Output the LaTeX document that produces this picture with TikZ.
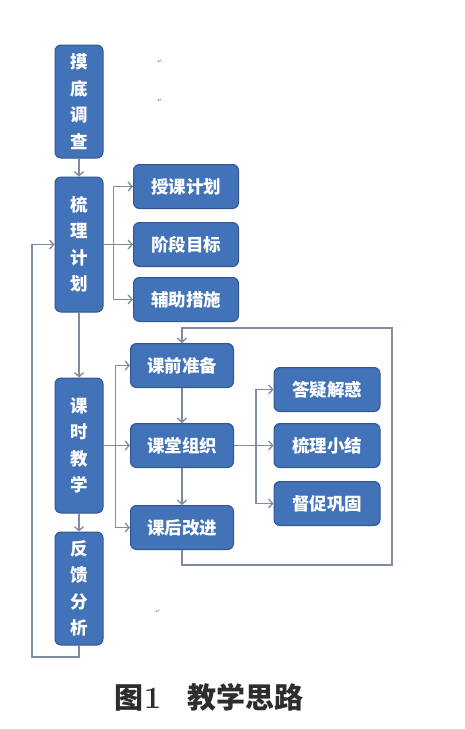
\documentclass[tikz,border=0pt]{standalone}
\usepackage{fontspec}
\newfontfamily\cjk{Noto Sans CJK SC}
\newfontfamily\djv{DejaVu Sans}
\usetikzlibrary{arrows.meta}
\definecolor{boxfill}{RGB}{66,114,184}
\definecolor{boxedge}{RGB}{48,86,145}
\definecolor{linec}{RGB}{128,138,162}
\definecolor{capc}{RGB}{45,45,45}
\tikzset{
  bx/.style={draw=boxedge, line width=1pt, fill=boxfill, rounded corners=6pt, text=white,
     font=\cjk\bfseries\fontsize{17.5}{26.5}\selectfont, align=center, inner sep=0pt},
  vbox/.style={bx, minimum width=48pt, minimum height=113pt},
  vboxl/.style={bx, minimum width=48pt, minimum height=135pt},
  hbox/.style={bx, minimum width=105pt, minimum height=44pt},
  conn/.style={draw=linec, line width=1.3pt},
  arr/.style={conn, -{Straight Barb[length=4pt,width=9pt]}},
  ret/.style={text=gray, font=\djv\fontsize{6}{6}\selectfont}
}
\begin{document}
\begin{tikzpicture}[x=1pt,y=-1pt]
\useasboundingbox (0,0) rectangle (465,729);
% left column
\node[vbox]  (A) at (79,101.5) {摸\\底\\调\\查};
\node[vboxl] (B) at (79,244.5) {梳\\理\\计\\划};
\node[vboxl] (C) at (79,445.5) {课\\时\\教\\学};
\node[vbox]  (D) at (79,588.5) {反\\馈\\分\\析};
% plan boxes
\node[hbox] (P1) at (186,186.5) {授课计划};
\node[hbox] (P2) at (186,244.5) {阶段目标};
\node[hbox] (P3) at (186,299.5) {辅助措施};
% lesson boxes
\node[hbox, minimum width=103pt] (E) at (182,365.5) {课前准备};
\node[hbox, minimum width=103pt] (F) at (182,445.5) {课堂组织};
\node[hbox, minimum width=103pt] (G) at (182,527.5) {课后改进};
% class boxes
\node[hbox, minimum width=106pt] (H) at (327,389.5) {答疑解惑};
\node[hbox, minimum width=106pt] (I) at (327,445.5) {梳理小结};
\node[hbox, minimum width=106pt] (J) at (327,503.5) {督促巩固};
% vertical flow
\draw[arr] (A) -- (B);
\draw[arr] (B) -- (C);
\draw[arr] (C) -- (D);
% plan branch
\draw[arr] (B.east) -- (P2.west);
\draw[arr] (B.east) -- ++(10,0) |- (P1.west);
\draw[arr] (B.east) -- ++(10,0) |- (P3.west);
% lesson branch
\draw[arr] (C.east) -- (F.west);
\draw[arr] (C.east) -- ++(12,0) |- (E.west);
\draw[arr] (C.east) -- ++(12,0) |- (G.west);
\draw[arr] (E) -- (F);
\draw[arr] (F) -- (G);
% class branch
\draw[arr] (F.east) -- (I.west);
\draw[arr] (F.east) -- ++(22,0) |- (H.west);
\draw[arr] (F.east) -- ++(22,0) |- (J.west);
% loop back to E
\coordinate (lb) at (392,565);
\coordinate (lt) at (392,328);
\draw[arr] (G.south) |- (lb) -- (lt) -| (E.north);
% feedback loop
\coordinate (fb) at (32,657);
\draw[arr] (D.south) |- (fb) |- (B.west);
% return marks
\node[ret] (r1) at (160,62) {↵};
\node[ret] (r2) at (160,101) {↵};
\node[ret] (r3) at (158,612) {↵};
% caption
\node[text=capc, font=\fontsize{29}{31}\selectfont] (cap) at (209,697)
  {{\cjk\bfseries 图}{\bfseries\fontsize{31}{31}\selectfont 1}\hspace{26pt}{\cjk\bfseries 教学思路}};
\end{tikzpicture}
\end{document}
